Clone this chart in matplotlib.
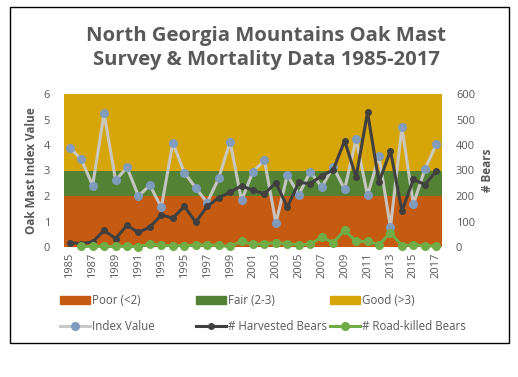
import matplotlib
matplotlib.use("Agg")
import matplotlib.pyplot as plt
from matplotlib.patches import Rectangle
from matplotlib.lines import Line2D

years = list(range(1985, 2018))
index_value = [3.89, 3.45, 2.41, 5.24, 2.62, 3.12, 2.00, 2.42, 1.55, 4.09, 2.92,
               2.32, 1.74, 2.69, 4.12, 1.83, 2.96, 3.40, 0.94, 2.83, 2.05, 2.95,
               2.35, 3.14, 2.26, 4.24, 2.02, 3.57, 0.77, 4.70, 1.68, 3.04, 4.02]
harvested = [17, 13, 20, 65, 33, 85, 57, 78, 126, 113, 159, 98, 159, 193, 215,
             240, 222, 209, 252, 156, 254, 248, 280, 302, 417, 274, 528, 254,
             378, 141, 265, 245, 297]
road_killed = [None, 2, 3, 2, 2, 3, 1, 12, 6, 5, 5, 7, 9, 6, 2, 22, 10, 13, 17,
               13, 9, 10, 39, 17, 65, 22, 22, 9, 56, 5, 9, 5, 3]
band_names = ["Poor (<2)", "Fair (2-3)", "Good (>3)"]
band_edges = [0, 2, 3, 6]
band_colors = ["#C55A11", "#548235", "#D6A507"]
line_names = ["Index Value", "# Harvested Bears", "# Road-killed Bears"]

title = "North Georgia Mountains Oak Mast\nSurvey & Mortality Data 1985-2017"

plt.rcParams['font.family'] = ['Open Sans', 'DejaVu Sans']
fig = plt.figure(figsize=(5.18, 3.77), dpi=100)
fig.patch.set_facecolor("white")

# outer border
fig.add_artist(Rectangle((10/518, 1-343/377), (509-10)/518, (343-7)/377,
                         transform=fig.transFigure, fill=False, edgecolor="black", lw=1.0))

ax = fig.add_axes([64/518, 1-247/377, (442-64)/518, (247-94)/377])
x = list(range(len(years)))
for i in range(3):
    ax.axhspan(band_edges[i], band_edges[i+1], color=band_colors[i], lw=0, zorder=0)
ax.set_xlim(-0.5, len(years) - 0.5)
ax.set_ylim(0, 6)
idx_kw = dict(color="#C9C9C9", lw=2.2, marker="o", ms=5.5,
              markerfacecolor="#7F9CC0", markeredgecolor="#7F9CC0")
ax.plot(x, index_value, zorder=3, alpha=0.95, **idx_kw)

ax2 = ax.twinx()
ax2.set_ylim(0, 600)
hv_kw = dict(color="#404040", lw=2.2, marker="o", ms=4, markerfacecolor="#404040")
ax2.plot(x, harvested, zorder=3, **hv_kw)
rk_kw = dict(color="#70AD47", lw=2.2, marker="o", ms=5.5, markerfacecolor="#70AD47")
rk_x = [xi for xi, v in zip(x, road_killed) if v is not None]
rk_v = [v for v in road_killed if v is not None]
ax2.plot(rk_x, rk_v, zorder=3, clip_on=False, **rk_kw)

for a in (ax, ax2):
    for s in a.spines.values():
        s.set_visible(False)
    a.tick_params(length=0, colors="#595959", labelsize=8)

ax.set_yticks([0, 1, 2, 3, 4, 5, 6])
ax2.set_yticks([0, 100, 200, 300, 400, 500, 600])
ax.set_xticks(x[::2])
ax.set_xticklabels([str(y) for y in years[::2]], rotation=90)
ax.tick_params(axis="x", pad=4)
ax.tick_params(axis="y", pad=10)
ax2.tick_params(axis="y", pad=10)

ax.set_ylabel("Oak Mast Index Value", fontsize=8.5, fontweight="bold", color="#595959", labelpad=4)
ax2.set_ylabel("# Bears", fontsize=8.5, fontweight="bold", color="#595959", labelpad=4)

fig.text(0.5 + 7/518, 1-48/377, title, ha="center", va="center", fontsize=14.6,
         fontweight="bold", color="#595959", linespacing=1.2)

band_h = [Rectangle((0, 0), 1, 1, color=c) for c in band_colors]
line_h = [Line2D([], [], **idx_kw), Line2D([], [], **hv_kw), Line2D([], [], **rk_kw)]
col_x = [60, 196, 330]
for i in range(3):
    leg = fig.legend([band_h[i], line_h[i]], [band_names[i], line_names[i]],
                     loc="upper left", bbox_to_anchor=(col_x[i]/518, 1-294/377),
                     frameon=False, fontsize=8.3, labelcolor="#595959", handlelength=2.6,
                     handletextpad=0.2, borderaxespad=0, borderpad=0, labelspacing=1.1)

fig.savefig("out.png", dpi=100, facecolor="white")
